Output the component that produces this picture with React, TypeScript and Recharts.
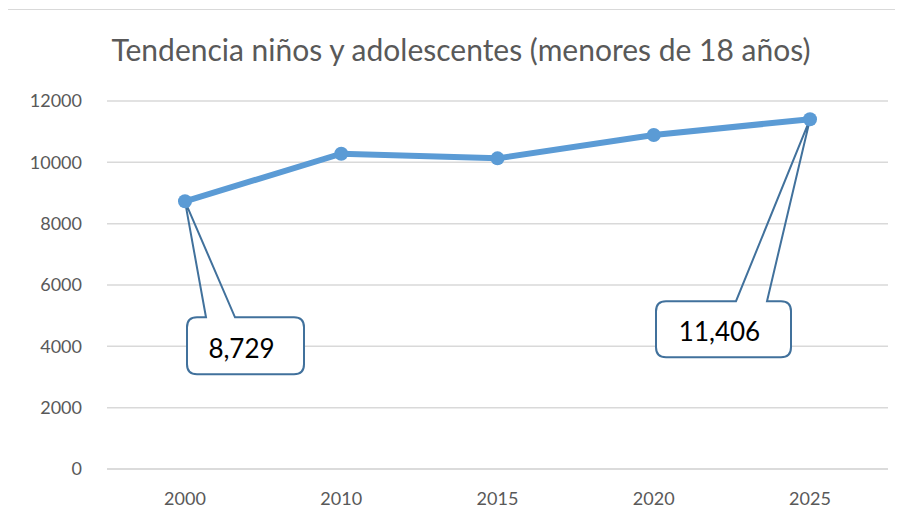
import React from "react";
import { LineChart, Line, XAxis, YAxis, CartesianGrid } from "recharts";

const years = ["2000", "2010", "2015", "2020", "2025"];
const minors = [8729, 10280, 10130, 10890, 11406];
const yTicks = [0, 2000, 4000, 6000, 8000, 10000, 12000];
const calloutYears = ["2000", "2025"];

const chartData = years.map((year, i) => ({ year, value: minors[i] }));

const FONT = "Lato, 'Open Sans', sans-serif";
const LINE_COLOR = "#5b9bd5";
const CALLOUT_COLOR = "#41719c";

// callout box placement relative to its point: [left, top, width, height, pointerA, pointerB]
const calloutBoxes: Record<string, number[]> = {
  "2000": [2, 116, 117, 57, 21, 50],
  "2025": [-154, 182, 135, 56, -74, -43],
};

const Callout = ({ cx, cy, year, value }: any) => {
  const [l, t, w, h, pa, pb] = calloutBoxes[year];
  const x0 = cx + l;
  const y0 = cy + t;
  const r = 10;
  const d = [
    `M ${x0 + r} ${y0}`,
    `L ${cx + pa} ${y0}`,
    `L ${cx} ${cy}`,
    `L ${cx + pb} ${y0}`,
    `L ${x0 + w - r} ${y0}`,
    `Q ${x0 + w} ${y0} ${x0 + w} ${y0 + r}`,
    `L ${x0 + w} ${y0 + h - r}`,
    `Q ${x0 + w} ${y0 + h} ${x0 + w - r} ${y0 + h}`,
    `L ${x0 + r} ${y0 + h}`,
    `Q ${x0} ${y0 + h} ${x0} ${y0 + h - r}`,
    `L ${x0} ${y0 + r}`,
    `Q ${x0} ${y0} ${x0 + r} ${y0}`,
    "Z",
  ].join(" ");
  return (
    <g>
      <rect x={x0} y={y0} width={w} height={h} rx={r} fill="#ffffff" />
      <path d={d} fill="none" stroke={CALLOUT_COLOR} strokeWidth={2} strokeLinejoin="miter" />
      <text
        x={x0 + w / 2 - 4}
        y={y0 + h / 2 + 2}
        textAnchor="middle"
        dominantBaseline="central"
        fontFamily={FONT}
        fontSize={26}
        fill="#000000"
      >
        {value.toLocaleString("en-US")}
      </text>
    </g>
  );
};

const renderDot = (props: any) => {
  const { cx, cy, payload, index } = props;
  return (
    <g key={`dot-${index}`}>
      {calloutYears.includes(payload.year) && (
        <Callout cx={cx} cy={cy} year={payload.year} value={payload.value} />
      )}
      <circle cx={cx} cy={cy} r={7} fill={LINE_COLOR} />
    </g>
  );
};

export default function App() {
  return (
    <div
      style={{
        position: "relative",
        marginLeft: -5,
        marginTop: 1,
        width: 897,
        height: 530,
        border: "1px solid #d9d9d9",
        background: "#ffffff",
      }}
    >
      <div
        style={{
          position: "absolute",
          top: 21,
          left: 0,
          width: 914,
          textAlign: "center",
          fontFamily: FONT,
          fontSize: 30,
          color: "#595959",
        }}
      >
        Tendencia niños y adolescentes (menores de 18 años)
      </div>
      <LineChart
        width={897}
        height={530}
        data={chartData}
        margin={{ top: 91, right: 13, bottom: 31, left: 23 }}
      >
        <CartesianGrid vertical={false} stroke="#d9d9d9" strokeWidth={1.5} />
        <XAxis
          dataKey="year"
          padding={{ left: 78, right: 78 }}
          axisLine={{ stroke: "#d9d9d9", strokeWidth: 1.5 }}
          tickLine={false}
          tickSize={0}
          tickMargin={23}
          height={40}
          tick={{ fill: "#595959", fontSize: 18, fontFamily: FONT }}
        />
        <YAxis
          domain={[0, 12000]}
          ticks={yTicks}
          axisLine={false}
          tickLine={false}
          tickSize={0}
          tickMargin={25}
          width={80}
          tick={{ fill: "#595959", fontSize: 18, fontFamily: FONT }}
        />
        <Line
          type="linear"
          dataKey="value"
          stroke={LINE_COLOR}
          strokeWidth={6}
          dot={renderDot}
          activeDot={false}
          isAnimationActive={false}
        />
      </LineChart>
    </div>
  );
}
